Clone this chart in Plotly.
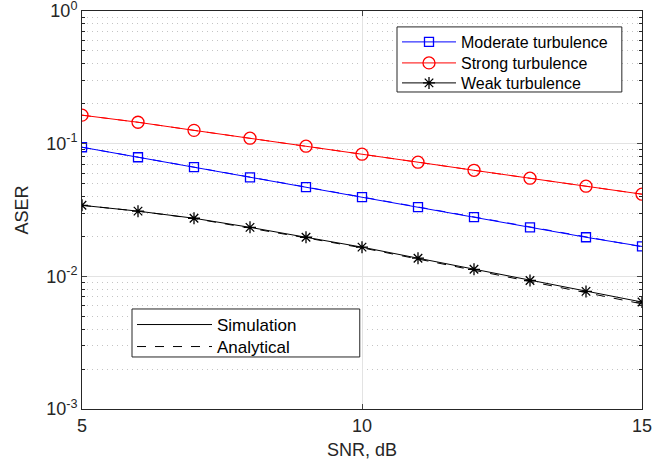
import plotly.graph_objects as go

# SNR in dB
snr = [5, 6, 7, 8, 9, 10, 11, 12, 13, 14, 15]

# Average symbol error rate, simulated
sim_moderate = [0.094, 0.079, 0.0665, 0.0558, 0.047, 0.0395, 0.0332, 0.0279, 0.0234, 0.0197, 0.0168]
sim_strong = [0.164, 0.145, 0.126, 0.110, 0.0957, 0.0833, 0.0725, 0.063, 0.0549, 0.0478, 0.0416]
sim_weak = [0.0343, 0.031, 0.0274, 0.0234, 0.0197, 0.0166, 0.0137, 0.0113, 0.0093, 0.0077, 0.0064]

# Average symbol error rate, analytical
ana_moderate = [0.094, 0.079, 0.0665, 0.0558, 0.047, 0.0395, 0.0332, 0.0279, 0.0234, 0.0197, 0.0167]
ana_strong = [0.164, 0.145, 0.126, 0.110, 0.0957, 0.0833, 0.0725, 0.063, 0.0549, 0.0478, 0.0416]
ana_weak = [0.0343, 0.031, 0.0273, 0.0232, 0.0195, 0.0164, 0.0135, 0.0111, 0.0091, 0.0075, 0.0062]

y_tickvals = [1, 0.1, 0.01, 0.001]
y_ticktext = ["10<sup>0</sup>", "10<sup>-1</sup>", "10<sup>-2</sup>", "10<sup>-3</sup>"]
x_tickvals = [5, 10, 15]

FONT = "Liberation Sans, Arial, sans-serif"
AX = "#262626"

fig = go.Figure()

# one legend entry per row so the row spacing can be set exactly
series = [
    ("Moderate turbulence", sim_moderate, ana_moderate, "#0000ff", "square-open", 9, "legend", 0.9221),
    ("Strong turbulence", sim_strong, ana_strong, "#ff0000", "circle-open", 12, "legend3", 0.8693),
    ("Weak turbulence", sim_weak, ana_weak, "#000000", "asterisk-open", 10, "legend4", 0.8191),
]

legend_cfg = {}
for name, sim, ana, color, sym, size, lg, ly in series:
    fig.add_trace(go.Scatter(
        x=snr, y=ana, mode="lines", showlegend=False,
        line=dict(color=color, width=1, dash="dash"),
    ))
    fig.add_trace(go.Scatter(
        x=snr, y=sim, mode="lines+markers", name=name, legend=lg,
        line=dict(color=color, width=1),
        marker=dict(symbol=sym, size=size, color=color, line=dict(color=color, width=1.3)),
    ))
    legend_cfg[lg] = dict(
        x=0.5625, y=ly, xanchor="left", yanchor="middle",
        bgcolor="rgba(0,0,0,0)", borderwidth=0,
        font=dict(size=16, color="black"), itemwidth=54,
    )

# Line-style key
fig.add_trace(go.Scatter(x=[None], y=[None], mode="lines", name="Simulation",
                         legend="legend2", line=dict(color="black", width=1)))
fig.add_trace(go.Scatter(x=[None], y=[None], mode="lines", name="Analytical",
                         legend="legend5", line=dict(color="black", width=1, dash="dash")))
for lg, ly in [("legend2", 0.2111), ("legend5", 0.1558)]:
    legend_cfg[lg] = dict(
        x=0.0893, y=ly, xanchor="left", yanchor="middle",
        bgcolor="rgba(0,0,0,0)", borderwidth=0,
        font=dict(size=17, color="black"), itemwidth=75,
    )

# Legend frames (white boxes with dark border)
box = dict(type="rect", xref="paper", yref="paper", layer="above",
           line=dict(color=AX, width=1), fillcolor="white")
fig.add_shape(**box, x0=0.5625, x1=0.964, y0=0.7965, y1=0.960)
fig.add_shape(**box, x0=0.0893, x1=0.496, y0=0.1307, y1=0.2513)

fig.update_layout(
    width=667, height=464,
    margin=dict(l=82, r=25, t=11, b=55),
    paper_bgcolor="white", plot_bgcolor="white",
    font=dict(family=FONT, size=16, color=AX),
    **legend_cfg,
)

fig.update_xaxes(
    range=[5, 15], tickvals=x_tickvals, ticks="inside", ticklen=5,
    showline=True, linecolor=AX, linewidth=1, mirror="ticks",
    showgrid=True, gridcolor="#e3e3e3", gridwidth=1, zeroline=False,
    tickfont=dict(size=18, color=AX), automargin=False,
    title=dict(text="SNR, dB", font=dict(size=18, color=AX), standoff=8),
)

fig.update_yaxes(
    type="log", range=[-3, 0.00001], tickvals=y_tickvals, ticktext=y_ticktext,
    ticks="inside", ticklen=5, ticklabeloverflow="allow", automargin=False,
    showline=True, linecolor=AX, linewidth=1, mirror="ticks",
    showgrid=True, gridcolor="#e3e3e3", gridwidth=1, zeroline=False,
    tickfont=dict(size=18, color=AX),
    title=dict(text="ASER", font=dict(size=18, color=AX), standoff=12),
    minor=dict(ticks="inside", ticklen=3, tickcolor=AX, dtick="D1",
               showgrid=True, gridcolor="#c4c4c4", griddash="1px,4px", gridwidth=1),
)

fig.write_html("out.html")
